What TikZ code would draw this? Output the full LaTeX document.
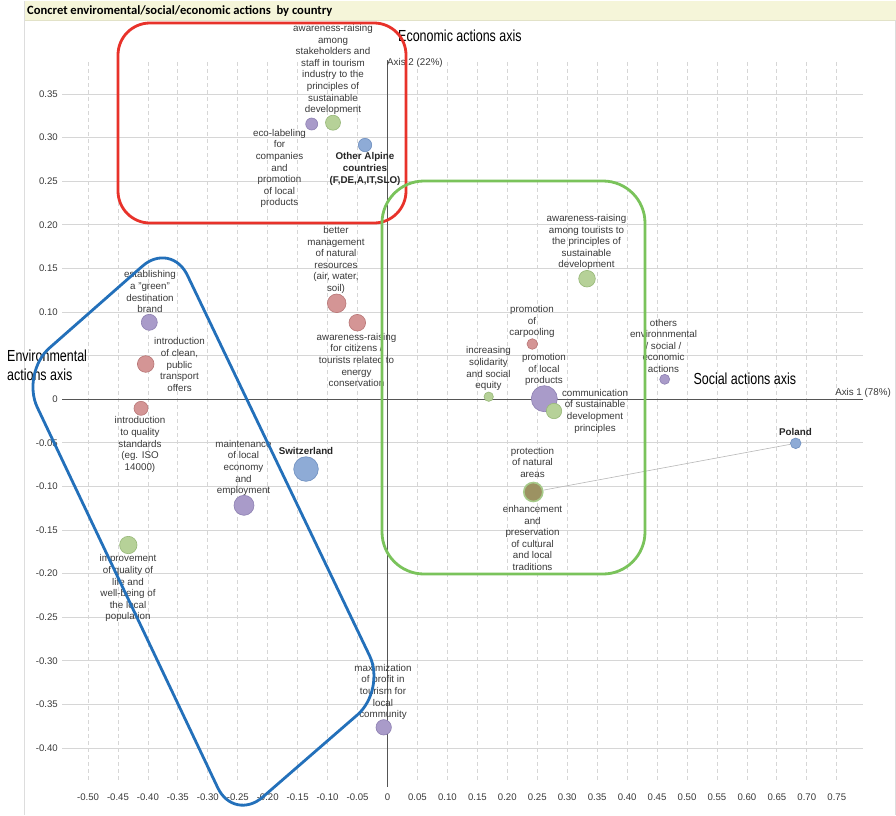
\documentclass[tikz,border=0pt]{standalone}
\usepackage{fontspec}
\setmainfont{Liberation Sans}
\newfontfamily\narrowfont[FakeStretch=0.78]{Liberation Sans}
\newfontfamily\titlefont{Carlito}

\definecolor{titlebg}{HTML}{F5F5D9}
\definecolor{titleline}{HTML}{E2E2C8}
\definecolor{framegray}{HTML}{DDDDDD}
\definecolor{gridgray}{HTML}{D6D6D6}
\definecolor{axisgray}{HTML}{555555}
\definecolor{labelgray}{HTML}{3A3A3A}
\definecolor{redline}{HTML}{E8322A}
\definecolor{greenline}{HTML}{7AC35B}
\definecolor{blueline}{HTML}{2370BA}
\definecolor{purplefill}{HTML}{A99BC9}
\definecolor{purpledraw}{HTML}{8D80B2}
\definecolor{greenfill}{HTML}{B6D198}
\definecolor{greendraw}{HTML}{97B878}
\definecolor{redfill}{HTML}{D49595}
\definecolor{reddraw}{HTML}{B87676}
\definecolor{bluefill}{HTML}{8EABD6}
\definecolor{bluedraw}{HTML}{6E8FBF}
\definecolor{brownfill}{HTML}{9C9262}
\definecolor{ringgreen}{HTML}{A6CB8A}

\tikzset{
  hgrid/.style={gridgray, line width=0.8pt},
  vgrid/.style={gridgray, line width=0.8pt, dash pattern=on 4pt off 3pt},
  axisline/.style={axisgray, line width=1.3pt},
  ticklabel/.style={font=\fontsize{9.6}{11}\selectfont, text=labelgray, inner sep=0pt},
  lbl/.style={font=\fontsize{9.8}{11.6}\selectfont, text=labelgray, align=center, inner sep=0pt},
  country/.style={lbl, font=\fontsize{9.8}{11.6}\selectfont\bfseries, text=black!85},
  axisname/.style={font=\narrowfont\fontsize{16}{19}\selectfont, text=black, inner sep=0pt, align=left, anchor=west},
  bubble/.style={circle, inner sep=0pt, line width=0.6pt},
  purpleb/.style={bubble, fill=purplefill, draw=purpledraw},
  greenb/.style={bubble, fill=greenfill, draw=greendraw},
  redb/.style={bubble, fill=redfill, draw=reddraw},
  blueb/.style={bubble, fill=bluefill, draw=bluedraw},
  groupbox/.style={line width=2.8pt},
  link/.style={black!28, line width=0.6pt}
}

\begin{document}
\begin{tikzpicture}[x=1pt, y=-1pt]
\useasboundingbox (0,0) rectangle (896,815);
\fill[white] (0,0) rectangle (896,815);

% title bar and frame
\fill[titlebg] (24,1) rectangle (896,20);
\draw[titleline, line width=0.6pt] (24,20) -- (896,20);
\draw[framegray, line width=0.8pt] (24.5,1) -- (24.5,815);
\draw[framegray, line width=0.8pt] (895,20) -- (895,815);
\node[font=\titlefont\fontsize{12.6}{14}\selectfont\bfseries, anchor=west, inner sep=0pt] (title) at (27,11.5)
  {Concret enviromental/social/economic actions\ \ by country};

% grid
\foreach \i in {-8,...,7}
  \draw[hgrid] (62,{399.2-43.6*\i}) -- (863,{399.2-43.6*\i});
\foreach \i in {-10,...,15}
  \draw[vgrid] ({387.5+29.95*\i},62) -- ({387.5+29.95*\i},780);

% tick labels (the 0.05 row is covered by the axis name on the left)
\foreach \i/\t in {7/0.35,6/0.30,5/0.25,4/0.20,3/0.15,2/0.10,0/0,-1/-0.05,-2/-0.10,-3/-0.15,-4/-0.20,-5/-0.25,-6/-0.30,-7/-0.35,-8/-0.40}
  \node[ticklabel, anchor=east] (yt\i) at (58,{399.2-43.6*\i}) {\t};
\foreach \i/\t in {-10/-0.50,-9/-0.45,-8/-0.40,-7/-0.35,-6/-0.30,-5/-0.25,-4/-0.20,-3/-0.15,-2/-0.10,-1/-0.05,0/0,1/0.05,2/0.10,3/0.15,4/0.20,5/0.25,6/0.30,7/0.35,8/0.40,9/0.45,10/0.50,11/0.55,12/0.60,13/0.65,14/0.70,15/0.75}
  \node[ticklabel] (xt\i) at ({387.5+29.95*\i},797) {\t};

% axes
\coordinate (ax1a) at (62,399.2);
\coordinate (ax1b) at (863,399.2);
\coordinate (ax2a) at (387.5,60);
\coordinate (ax2b) at (387.5,787);
\draw[axisline] (ax1a) -- (ax1b);
\draw[axisline] (ax2a) -- (ax2b);
\node[ticklabel, anchor=east, font=\fontsize{9.8}{11}\selectfont] (axis1) at (891,393) {Axis 1 (78\%)};
\node[ticklabel, anchor=west, font=\fontsize{9.8}{11}\selectfont] (axis2) at (387,62.5) {Axis 2 (22\%)};

% bubbles
\node[purpleb, minimum size=12pt]   (beco)      at (311.7,124) {};
\node[greenb,  minimum size=15pt]   (bstake)    at (333,122.7) {};
\node[blueb,   minimum size=13.4pt] (balpine)   at (365,145) {};
\node[redb,    minimum size=18.6pt] (bbetter)   at (336.7,303.3) {};
\node[redb,    minimum size=16.6pt] (bcitizen)  at (357.3,322.7) {};
\node[purpleb, minimum size=16pt]   (bbrand)    at (149.3,322.3) {};
\node[redb,    minimum size=16.6pt] (bclean)    at (145.7,364) {};
\node[redb,    minimum size=14pt]   (bquality)  at (141,408.3) {};
\node[blueb,   minimum size=24.6pt] (bswiss)    at (306,469) {};
\node[purpleb, minimum size=20pt]   (bmaint)    at (244,505.3) {};
\node[greenb,  minimum size=17.4pt] (bimprove)  at (128.3,545) {};
\node[purpleb, minimum size=15.4pt] (bprofit)   at (383.7,727.3) {};
\node[greenb,  minimum size=16.6pt] (btourist)  at (587,278.7) {};
\node[redb,    minimum size=10.6pt] (bcarpool)  at (532.3,344) {};
\node[greenb,  minimum size=9.4pt]  (bsolid)    at (488.7,396.7) {};
\node[purpleb, minimum size=26pt]   (bproducts) at (544.3,398.7) {};
\node[greenb,  minimum size=15.4pt] (bcomm)     at (554,411) {};
\node[purpleb, minimum size=10pt]   (bothers)   at (664.7,379.3) {};
\node[blueb,   minimum size=10.6pt] (bpoland)   at (795.7,443.3) {};
\node[bubble, fill=brownfill, draw=ringgreen, line width=1.6pt, minimum size=19pt] (bprotect) at (533.3,492) {};
\draw[link] (bprotect) -- (bpoland);

% point labels
\node[lbl] (tstake) at (333,69.5) {awareness-raising\\among\\stakeholders and\\staff in tourism\\industry to the\\principles of\\sustainable\\development};
\node[lbl] (teco) at (279.5,168.5) {eco-labeling\\for\\companies\\and\\promotion\\of local\\products};
\node[country] (talpine) at (365,169) {Other Alpine\\countries\\(F,DE,A,IT,SLO)};
\node[lbl] (tbetter) at (336,260) {better\\management\\of natural\\resources\\(air, water,\\soil)};
\node[lbl] (tcitizen) at (356.5,360) {awareness-raising\\for citizens /\\tourists related to\\energy\\conservation};
\node[lbl] (tbrand) at (150,291.8) {establishing\\a "green"\\destination\\brand};
\node[lbl] (tclean) at (179.5,364.5) {introduction\\of clean,\\public\\transport\\offers};
\node[lbl] (tquality) at (140,444.5) {introduction\\to quality\\standards\\(eg. ISO\\14000)};
\node[lbl] (tmaint) at (243.5,468) {maintenance\\of local\\economy\\and\\employment};
\node[country] (tswiss) at (306,451) {Switzerland};
\node[lbl] (timprove) at (128,588.3) {improvement\\of quality of\\life and\\well-being of\\the local\\population};
\node[lbl] (tprofit) at (383,692) {maximization\\of profit in\\tourism for\\local\\community};
\node[lbl] (ttourist) at (586.5,242.2) {awareness-raising\\among tourists to\\the principles of\\sustainable\\development};
\node[lbl] (tcarpool) at (532,321.7) {promotion\\of\\carpooling};
\node[lbl] (tsolid) at (488.5,368.8) {increasing\\solidarity\\and social\\equity};
\node[lbl] (tproducts) at (544,369.7) {promotion\\of local\\products};
\node[lbl] (tcomm) at (595,411.2) {communication\\of sustainable\\development\\principles};
\node[lbl] (tothers) at (663.5,345.7) {others\\environnmental\\/ social /\\economic\\actions};
\node[country] (tpoland) at (795.5,431.7) {Poland};
\node[lbl] (tprotect) at (532.5,462.3) {protection\\of natural\\areas};
\node[lbl] (tenhance) at (532.5,538) {enhancement\\and\\preservation\\of cultural\\and local\\traditions};

% axis names
\node[axisname] (econ) at (398,35.7) {Economic actions axis};
\node[axisname] (envir) at (7,365.5) {Environmental\\actions axis};
\node[axisname] (social) at (693.3,378.3) {Social actions axis};

% group outlines
\draw[groupbox, redline, rounded corners=32pt] (118,23) rectangle (406,223);
\draw[groupbox, greenline, rounded corners=42pt] (382,181) rectangle (645,574);
\draw[groupbox, blueline, rounded corners=38pt]
  (96,307) -- (171,241) -- (386,690) -- (234,822) -- (21,373) -- cycle;
\end{tikzpicture}
\end{document}
